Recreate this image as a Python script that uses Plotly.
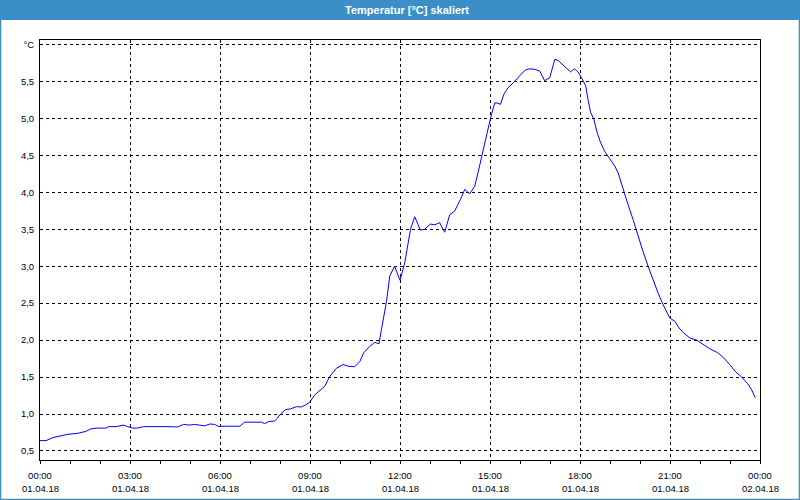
import plotly.graph_objects as go

# time of day in hours (01.04.18 00:00 -> 02.04.18 00:00)
hours = [0.00, 0.20, 0.42, 0.65, 0.92, 1.26, 1.53, 1.70, 1.92, 2.20, 2.29, 2.53, 2.79, 2.92,
         3.09, 3.26, 3.46, 4.26, 4.37, 4.59, 4.79, 4.98, 5.15, 5.37, 5.49, 5.66, 5.82, 5.96,
         6.10, 6.66, 6.82, 7.38, 7.49, 7.63, 7.82, 7.90, 8.02, 8.19, 8.35, 8.55, 8.71, 8.86,
         8.99, 9.16, 9.32, 9.49, 9.66, 9.88, 10.10, 10.30, 10.49, 10.66, 10.79, 10.99, 11.16,
         11.30, 11.38, 11.55, 11.66, 11.82, 12.00, 12.16, 12.35, 12.49, 12.68, 12.82, 13.01,
         13.16, 13.32, 13.49, 13.66, 13.82, 14.01, 14.16, 14.32, 14.49, 14.60, 14.71, 14.82,
         14.97, 15.05, 15.16, 15.23, 15.35, 15.46, 15.60, 15.77, 15.93, 16.05, 16.16, 16.30,
         16.49, 16.66, 16.75, 16.82, 16.99, 17.08, 17.16, 17.27, 17.38, 17.52, 17.68, 17.82,
         17.93, 18.05, 18.19, 18.27, 18.35, 18.46, 18.57, 18.68, 18.82, 18.99, 19.16, 19.27,
         19.43, 19.60, 19.77, 19.93, 20.10, 20.27, 20.43, 20.60, 20.77, 20.88, 20.99, 21.16,
         21.30, 21.45, 21.66, 21.89, 22.09, 22.32, 22.59, 22.79, 22.99, 23.19, 23.39, 23.59,
         23.72, 23.84]
temps = [0.64, 0.64, 0.68, 0.70, 0.725, 0.74, 0.765, 0.80, 0.81, 0.81, 0.83, 0.83, 0.85, 0.83,
         0.81, 0.81, 0.83, 0.83, 0.825, 0.825, 0.86, 0.85, 0.86, 0.85, 0.84, 0.865, 0.86, 0.83,
         0.835, 0.835, 0.89, 0.89, 0.87, 0.90, 0.905, 0.94, 1.00, 1.06, 1.07, 1.10, 1.095, 1.125,
         1.16, 1.26, 1.31, 1.375, 1.51, 1.62, 1.67, 1.645, 1.64, 1.71, 1.83, 1.915, 1.97,
         1.95, 2.14, 2.525, 2.87, 3.00, 2.81, 3.05, 3.50, 3.67, 3.49, 3.50, 3.57,
         3.56, 3.59, 3.46, 3.70, 3.745, 3.90, 4.04, 3.98, 4.08, 4.265, 4.47, 4.65,
         4.92, 5.055, 5.21, 5.21, 5.19, 5.325, 5.415, 5.48, 5.55, 5.605, 5.65, 5.67,
         5.665, 5.64, 5.57, 5.51, 5.55, 5.685, 5.80, 5.785, 5.74, 5.685, 5.63, 5.67,
         5.63, 5.55, 5.44, 5.25, 5.085, 4.99, 4.81, 4.68, 4.555, 4.455, 4.355, 4.265,
         4.04, 3.835, 3.63, 3.405, 3.20, 3.00, 2.82, 2.64, 2.48, 2.39, 2.30, 2.255,
         2.165, 2.10, 2.03, 2.00, 1.95, 1.885, 1.83, 1.76, 1.67, 1.57, 1.50, 1.41,
         1.33, 1.22]

x_tickvals = [0, 3, 6, 9, 12, 15, 18, 21, 24]
x_times = ["00:00", "03:00", "06:00", "09:00", "12:00", "15:00", "18:00", "21:00", "00:00"]
x_dates = ["01.04.18"] * 8 + ["02.04.18"]
y_tickvals = [0.5, 1.0, 1.5, 2.0, 2.5, 3.0, 3.5, 4.0, 4.5, 5.0, 5.5, 6.0]
y_ticktext = ["0,5", "1,0", "1,5", "2,0", "2,5", "3,0", "3,5", "4,0", "4,5", "5,0", "5,5", "°C"]
title_text = "Temperatur [°C] skaliert"

BLUE = "#3C8FC6"
FONT = "Liberation Sans, Arial, sans-serif"

fig = go.Figure()
fig.add_trace(go.Scatter(x=hours, y=temps, mode="lines",
                         line=dict(color="#0000FF", width=1), showlegend=False,
                         hoverinfo="skip"))

W, H = 800, 500
ML, MR, MT, MB = 40, 40, 40, 40
pw, ph = W - ML - MR, H - MT - MB

def px_x(p):
    return (p - ML) / pw

def px_y(p):
    return (H - MB - p) / ph

fig.update_layout(
    width=W, height=H,
    margin=dict(l=ML, r=MR, t=MT, b=MB, pad=0),
    paper_bgcolor="white", plot_bgcolor="white",
    font=dict(family=FONT, size=9.5, color="#000000"),
    xaxis=dict(
        range=[0, 24], tickvals=x_tickvals, ticktext=x_times,
        showgrid=True, gridcolor="#000000", gridwidth=1, griddash="3px,3px",
        showline=True, linecolor="#000000", linewidth=1, mirror=True,
        ticks="outside", ticklen=3, tickcolor="#000000", tickwidth=1,
        minor=dict(dtick=1, tick0=0, ticks="outside", ticklen=3, tickcolor="#000000",
                   showgrid=False),
        zeroline=False, fixedrange=True, ticklabelstandoff=4,
        tickfont=dict(family=FONT, size=9.5, color="#000000"),
    ),
    yaxis=dict(
        range=[0.378, 6.061], tickvals=y_tickvals, ticktext=y_ticktext,
        showgrid=True, gridcolor="#000000", gridwidth=1, griddash="3px,3px",
        showline=True, linecolor="#000000", linewidth=1, mirror=True,
        ticks="", zeroline=False, fixedrange=True, ticklabelstandoff=3,
        tickfont=dict(family=FONT, size=9.5, color="#000000"),
    ),
)

# title bar and window border
fig.add_shape(type="rect", xref="paper", yref="paper",
              x0=px_x(0), x1=px_x(800), y0=px_y(20), y1=px_y(0),
              fillcolor=BLUE, line=dict(width=0), layer="below")
fig.add_shape(type="rect", xref="paper", yref="paper",
              x0=px_x(0.5), x1=px_x(799.5), y0=px_y(499.5), y1=px_y(0.5),
              fillcolor="rgba(0,0,0,0)", line=dict(color=BLUE, width=1.5))
fig.add_annotation(text="<b>" + title_text + "</b>", xref="paper", yref="paper",
                   x=px_x(407), y=px_y(9.5), xanchor="center", yanchor="middle",
                   showarrow=False, font=dict(family=FONT, size=11, color="white"))

# date row below the time labels
for xv, d in zip(x_tickvals, x_dates):
    fig.add_annotation(text=d, x=xv, xref="x", y=0, yref="paper",
                       yanchor="middle", yshift=-28, showarrow=False,
                       font=dict(family=FONT, size=9.5, color="#000000"))

fig.write_html("out.html",
               config={"displayModeBar": False, "staticPlot": True},
               post_script="document.body.style.margin='0';document.body.style.overflow='hidden';")
